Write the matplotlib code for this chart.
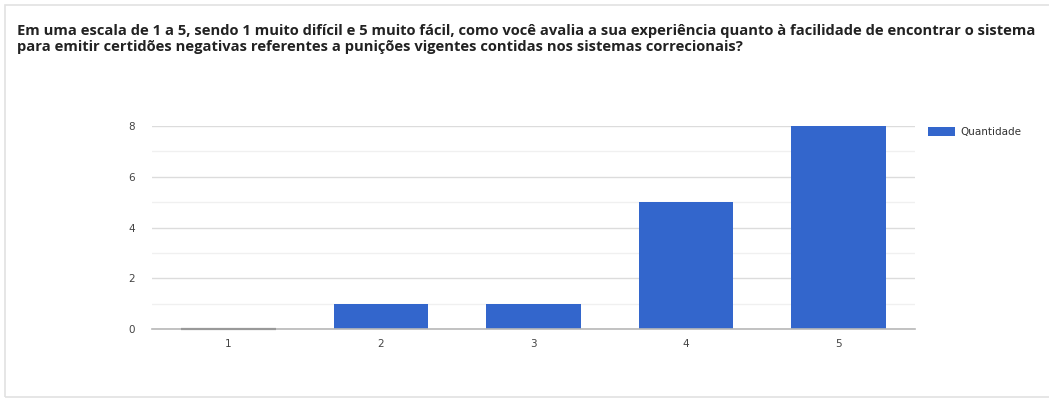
import matplotlib
matplotlib.use("Agg")
import matplotlib.pyplot as plt
from matplotlib.patches import Rectangle

# Answers on the 1-5 ease scale
notas = ["1", "2", "3", "4", "5"]
quantidade = [0, 1, 1, 5, 8]
y_ticks = [0, 2, 4, 6, 8]

titulo = ("Em uma escala de 1 a 5, sendo 1 muito difícil e 5 muito fácil, como você avalia a sua "
          "experiência quanto à facilidade de encontrar o sistema\n"
          "para emitir certidões negativas referentes a punições vigentes contidas nos sistemas correcionais?")

AZUL = "#3366cc"

fig = plt.figure(figsize=(10.49, 4.0), dpi=100)

# light frame around the card
fig.patches.append(Rectangle((5 / 1049, 3 / 400), 1.0, 392 / 400, transform=fig.transFigure,
                             fill=False, edgecolor="#e2e2e2", linewidth=1.2))

fig.text(17 / 1049, 1 - 24 / 400, titulo, family="Open Sans", weight="bold", fontsize=10.6,
         color="#222222", va="top", ha="left", linespacing=1.18)

ax = fig.add_axes([152 / 1049, 1 - 329 / 400, 763 / 1049, 203 / 400])

x = range(len(notas))
ax.bar(x, quantidade, width=0.62, color=AZUL, label="Quantidade", zorder=3)
# empty category still gets a thin mark on the baseline
for i, q in enumerate(quantidade):
    if q == 0:
        ax.plot([i - 0.31, i + 0.31], [0, 0], color="#999999", linewidth=1.6,
                solid_capstyle="butt", zorder=5, clip_on=False)

ax.set_xlim(-0.5, len(notas) - 0.5)
ax.set_ylim(0, 8)
ax.set_xticks(list(x))
ax.set_xticklabels(notas)
ax.set_yticks(y_ticks)
ax.set_yticks([1, 3, 5, 7], minor=True)

ax.grid(axis="y", which="major", color="#dcdcdc", linewidth=1, zorder=0)
ax.grid(axis="y", which="minor", color="#f0f0f0", linewidth=1, zorder=0)
for s in ["top", "right", "left"]:
    ax.spines[s].set_visible(False)
ax.spines["bottom"].set_color("#b8b8b8")
ax.spines["bottom"].set_linewidth(1.2)
ax.spines["bottom"].set_zorder(4)

ax.tick_params(axis="both", which="both", length=0, labelsize=7.5, labelcolor="#444444")
ax.tick_params(axis="y", pad=12)
ax.tick_params(axis="x", pad=7)

ax.legend(loc="upper left", bbox_to_anchor=(1.005, 1.04), frameon=False, fontsize=7.5,
          handlelength=2.6, handleheight=0.9, handletextpad=0.5, labelcolor="#333333")

fig.savefig("out.png", dpi=100)
